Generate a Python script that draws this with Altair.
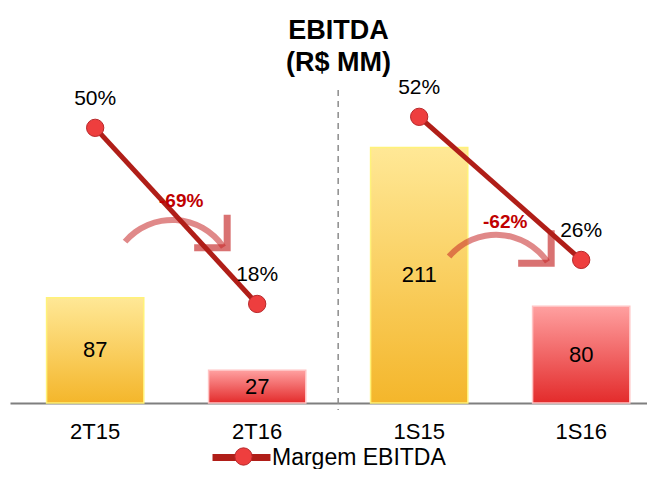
import altair as alt
import pandas as pd

# ---- data ----
cats = ["2T15", "2T16", "1S15", "1S16"]
ebitda = [87, 27, 211, 80]
margin = [50, 18, 52, 26]
groups = ["2T", "2T", "1S", "1S"]
years = ["2015", "2016", "2015", "2016"]
margin_labels = ["50%", "18%", "52%", "26%"]

var_cats = ["2T15", "1S15"]
var_labels = ["-69%", "-62%"]
var_label_y = [36.7, 32.9]
var_arc_y = [22.0, 19.3]
var_tip_y = [28.2, 25.4]

series_name = "Margem EBITDA"
marker_name = "marker"
FONT = "Liberation Sans"

df = pd.DataFrame({
    "cat": cats, "ebitda": ebitda, "margin": margin, "grp": groups,
    "year": years, "mlabel": margin_labels, "series": series_name,
    "marker": marker_name,
})
df["half"] = df["ebitda"] / 2
df["vlabel"] = df["ebitda"].astype(str)

arrows = pd.DataFrame({
    "cat": var_cats, "label": var_labels, "label_y": var_label_y,
    "arc_y": var_arc_y, "tip_y": var_tip_y,
})

sep = pd.DataFrame({"cat": ["2T16"], "top": [258.6], "bottom": [-5.8]})

x_scale = alt.Scale(type="band", domain=cats, paddingInner=0.4, paddingOuter=0.166, align=0.68)
x_enc = alt.X(
    "cat:N", sort=cats, scale=x_scale,
    axis=alt.Axis(title=None, labelFontSize=22, labelColor="black", labelFont=FONT,
                  labelPadding=18, ticks=False, domainColor="#7f7f7f", domainWidth=2,
                  labelAngle=0, grid=False),
)

bar_scale = alt.Scale(domain=[0, 271], nice=False, zero=True)
m_scale = alt.Scale(domain=[0, 59.6], nice=False, zero=True)

yellow = alt.Gradient(
    gradient="linear",
    stops=[alt.GradientStop(color="#FFE896", offset=0),
           alt.GradientStop(color="#F4B62B", offset=1)],
    x1=0, x2=0, y1=0, y2=1,
)
red = alt.Gradient(
    gradient="linear",
    stops=[alt.GradientStop(color="#FFA0A0", offset=0),
           alt.GradientStop(color="#E32B2B", offset=1)],
    x1=0, x2=0, y1=0, y2=1,
)

bars_y = alt.Chart(df).transform_filter(alt.datum.year == "2015").mark_bar(
    fill=yellow, stroke="#FFF27A", strokeWidth=1.5
).encode(x=x_enc, y=alt.Y("ebitda:Q", scale=bar_scale, axis=None))

bars_r = alt.Chart(df).transform_filter(alt.datum.year == "2016").mark_bar(
    fill=red, stroke="#FFC4C4", strokeWidth=1.5
).encode(x=x_enc, y=alt.Y("ebitda:Q", scale=bar_scale, axis=None))

bar_text = alt.Chart(df).mark_text(
    fontSize=22, font=FONT, color="black", baseline="middle"
).encode(x=x_enc, y=alt.Y("half:Q", scale=bar_scale, axis=None), text="vlabel:N")

sep_rule = alt.Chart(sep).mark_rule(
    color="#8c8c8c", strokeDash=[6, 5], strokeWidth=1.5, xOffset=81
).encode(x=x_enc, y=alt.Y("top:Q", scale=bar_scale, axis=None), y2="bottom:Q")

arcs = alt.Chart(arrows).mark_arc(
    radius=65, radius2=59, theta=5.42, theta2=7.257, color="#C62828", opacity=0.55, xOffset=77
).encode(x=x_enc, y=alt.Y("arc_y:Q", scale=m_scale, axis=None))

heads = alt.Chart(arrows).mark_point(
    shape="M -1 -1 L 0 0 L -1 1", size=2180, filled=False, strokeWidth=7, angle=45,
    color="#C62828", opacity=0.65, xOffset=132
).encode(x=x_enc, y=alt.Y("tip_y:Q", scale=m_scale, axis=None))

var_text = alt.Chart(arrows).mark_text(
    fontSize=19, fontWeight="bold", font=FONT, color="#C00000", xOffset=86
).encode(x=x_enc, y=alt.Y("label_y:Q", scale=m_scale, axis=None), text="label:N")

line = alt.Chart(df).mark_line(strokeWidth=5).encode(
    x=x_enc, y=alt.Y("margin:Q", scale=m_scale, axis=None), detail="grp:N",
    color=alt.Color("series:N", scale=alt.Scale(domain=[series_name], range=["#B01E18"]),
                    legend=alt.Legend(orient="none", legendX=220, legendY=371, title=None,
                                      symbolType="M -4 0 L 4 0", symbolSize=210,
                                      symbolStrokeWidth=7, labelFontSize=23, labelFont=FONT,
                                      labelColor="black", labelOffset=19, labelLimit=400,
                                      padding=0)),
)

points = alt.Chart(df).mark_point(
    filled=True, size=300, stroke="#B8282A", strokeWidth=1, opacity=1
).encode(
    x=x_enc, y=alt.Y("margin:Q", scale=m_scale, axis=None),
    fill=alt.Fill("marker:N", scale=alt.Scale(domain=[marker_name], range=["#EE3E3E"]),
                  legend=alt.Legend(orient="none", legendX=224, legendY=372, title=None,
                                    symbolType="circle", symbolSize=300,
                                    symbolStrokeColor="#B8282A", symbolStrokeWidth=1,
                                    labelExpr="''", padding=0)),
)

mtext = alt.Chart(df).mark_text(
    fontSize=21, font=FONT, color="black", dy=-29
).encode(x=x_enc, y=alt.Y("margin:Q", scale=m_scale, axis=None), text="mlabel:N")

chart = alt.layer(
    bars_y, bars_r, bar_text, sep_rule, arcs, heads, line, var_text, points, mtext
).resolve_scale(y="independent").properties(
    width=637, height=328,
    autosize=alt.AutoSizeParams(type="none"),
    padding={"left": 2, "top": 67, "right": 0, "bottom": 66},
    title=alt.Title(["EBITDA", "(R$ MM)"], fontSize=27, font=FONT, fontWeight="bold",
                    color="black", anchor="middle", dx=10, dy=6, offset=4, lineHeight=32),
).configure_view(stroke=None)

chart.save("out.html", embed_options={"renderer": "svg", "actions": False})
